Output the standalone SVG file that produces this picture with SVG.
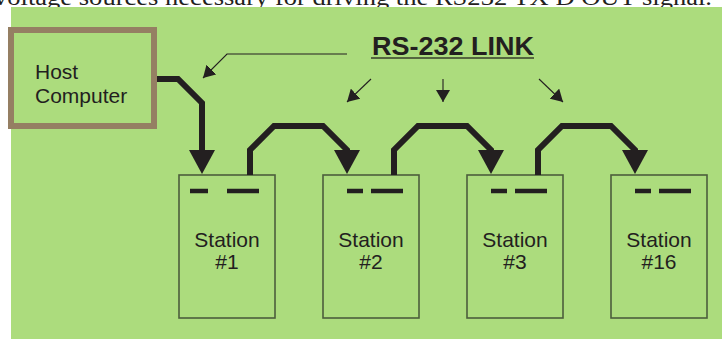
<svg xmlns="http://www.w3.org/2000/svg" width="722" height="339" viewBox="0 0 722 339">
  <style>
    .lbl { font-family: "Liberation Sans", Arial, sans-serif; font-size: 21px; fill: #231f20; }
    .station { fill: none; stroke: #4d5e3c; stroke-width: 1.6; }
    .dash { stroke: #231f20; stroke-width: 4.5; }
    .link { fill: none; stroke: #231f20; stroke-width: 6; stroke-linejoin: miter; }
    .head { fill: #231f20; }
    .pointer { fill: none; stroke: #231f20; stroke-width: 1.1; marker-end: url(#tip); }
  </style>
  <defs>
    <marker id="tip" viewBox="0 0 12 14" refX="12" refY="7" markerWidth="12" markerHeight="14" markerUnits="userSpaceOnUse" orient="auto">
      <path d="M0,0 L12,7 L0,14 Z" fill="#231f20"/>
    </marker>
  </defs>

  <!-- caption line running into the top edge -->
  <text x="-6" y="5" font-family="'Liberation Serif', 'Times New Roman', serif" font-size="23" fill="#231f20" textLength="718" lengthAdjust="spacingAndGlyphs">voltage sources necessary for driving the RS232 TX D OUT signal.</text>

  <!-- panel -->
  <rect x="11" y="7" width="711" height="332" fill="#acdc7d"/>

  <!-- host -->
  <g id="host">
    <rect x="11" y="30" width="143" height="96" fill="none" stroke="#957f63" stroke-width="6"/>
    <text class="lbl" x="35" y="79">Host</text>
    <text class="lbl" x="35" y="103">Computer</text>
  </g>

  <!-- title -->
  <g id="title">
    <text x="372" y="55" font-family="'Liberation Sans', Arial, sans-serif" font-weight="bold" font-size="26" fill="#231f20" textLength="162" lengthAdjust="spacingAndGlyphs">RS-232 LINK</text>
    <line x1="371" y1="58" x2="534" y2="58" stroke="#55663f" stroke-width="2"/>
  </g>

  <!-- stations -->
  <g id="station1">
    <rect class="station" x="179" y="175" width="96" height="143"/>
    <line class="dash" x1="190" y1="191" x2="208" y2="191"/>
    <line class="dash" x1="227" y1="191" x2="259" y2="191"/>
    <text class="lbl" x="227" y="247" text-anchor="middle">Station</text>
    <text class="lbl" x="227" y="269" text-anchor="middle">#1</text>
  </g>
  <g id="station2">
    <rect class="station" x="323" y="175" width="96" height="143"/>
    <line class="dash" x1="347" y1="191" x2="363" y2="191"/>
    <line class="dash" x1="371" y1="191" x2="403" y2="191"/>
    <text class="lbl" x="371" y="247" text-anchor="middle">Station</text>
    <text class="lbl" x="371" y="269" text-anchor="middle">#2</text>
  </g>
  <g id="station3">
    <rect class="station" x="467" y="175" width="96" height="143"/>
    <line class="dash" x1="491" y1="191" x2="507" y2="191"/>
    <line class="dash" x1="515" y1="191" x2="547" y2="191"/>
    <text class="lbl" x="515" y="247" text-anchor="middle">Station</text>
    <text class="lbl" x="515" y="269" text-anchor="middle">#3</text>
  </g>
  <g id="station16">
    <rect class="station" x="611" y="175" width="96" height="143"/>
    <line class="dash" x1="635" y1="191" x2="651" y2="191"/>
    <line class="dash" x1="659" y1="191" x2="691" y2="191"/>
    <text class="lbl" x="659" y="247" text-anchor="middle">Station</text>
    <text class="lbl" x="659" y="269" text-anchor="middle">#16</text>
  </g>

  <!-- connectors -->
  <g id="connectors">
    <path class="link" d="M157,79 H178 L202,103 V152"/>
    <path class="head" d="M189,150 L215,150 L202,174 Z"/>

    <path class="link" d="M250,175 V150 L274,126 H323 L347,150 V152"/>
    <path class="head" d="M334,150 L360,150 L347,174 Z"/>

    <path class="link" d="M394,175 V150 L418,126 H467 L491,150 V152"/>
    <path class="head" d="M478,150 L504,150 L491,174 Z"/>

    <path class="link" d="M538,175 V150 L562,126 H611 L635,150 V152"/>
    <path class="head" d="M622,150 L648,150 L635,174 Z"/>

    <!-- pointers from the title -->
    <path class="pointer" d="M347,54 H227 L203,78"/>
    <path class="pointer" d="M371,79 L347,102"/>
    <path class="pointer" d="M443,79 V102"/>
    <path class="pointer" d="M539,79 L563,102"/>
  </g>
</svg>
